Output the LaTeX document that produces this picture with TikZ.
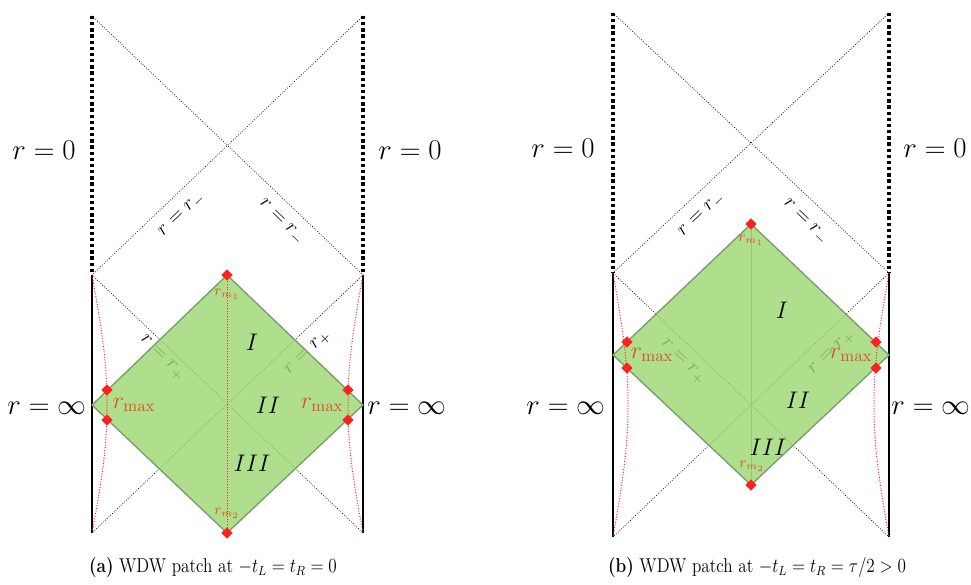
\documentclass[tikz,border=0pt]{standalone}
\usepackage{xcolor}
\definecolor{cPatch}{HTML}{9BD66F}
\definecolor{cEdge}{HTML}{7A9C6C}
\definecolor{cDot}{HTML}{FF2020}
\definecolor{cLabel}{HTML}{E0501C}
\definecolor{cGray}{HTML}{8C8C8C}
\usepackage{tikz}
\usetikzlibrary{positioning,shapes.geometric}
\tikzset{
  line-sing/.style={line width=2pt,dash pattern=on 2pt off 1.7pt},
  line-bdy/.style={line width=0.8pt},
  line-hor/.style={densely dotted,line width=0.45pt},
  line-rmax/.style={draw=cDot,densely dotted,line width=0.6pt},
  line-axis/.style={draw=cGray,line width=0.4pt},
  wdw-patch/.style={fill=cPatch,fill opacity=0.8,draw=cEdge,line width=0.8pt},
  node-dot/.style={diamond,fill=cDot,inner sep=0pt,minimum size=7pt},
  label-bdy/.style={font=\LARGE},
  label-hor/.style={font=\large,inner sep=1pt},
  label-reg/.style={font=\Large},
  label-rmax/.style={font=\Large,text=cLabel,inner sep=1pt},
  label-rm/.style={font=\small,text=cLabel,inner sep=1pt},
  label-cap/.style={font=\large,xscale=0.86},
}

\begin{document}
\begin{tikzpicture}[x=0.6pt,y=-0.6pt]
  \useasboundingbox (0,0) rectangle (971,585);

  % (a) -t_L = t_R = 0
  \coordinate (aTL) at (92,16);  \coordinate (aTR) at (363,16);
  \coordinate (aML) at (92,275); \coordinate (aMR) at (363,275);
  \coordinate (aBL) at (92,533); \coordinate (aBR) at (363,533);
  \draw[line-sing] (aTL) -- (aML);
  \draw[line-sing] (aTR) -- (aMR);
  \draw[line-bdy] (aML) -- (aBL);
  \draw[line-bdy] (aMR) -- (aBR);
  \draw[line-hor] (aTL) -- (aMR);
  \draw[line-hor] (aTR) -- (aML);
  \draw[line-hor] (aML) -- (aBR);
  \draw[line-hor] (aMR) -- (aBL);
  \node[label-bdy] (a-r0L) at (44,150) {$r=0$};
  \node[label-bdy] (a-r0R) at (410,150) {$r=0$};
  \node[label-bdy] (a-rinfL) at (47,408) {$r=\infty$};
  \node[label-bdy] (a-rinfR) at (407,408) {$r=\infty$};
  \node[label-hor,rotate=44] (a-rmL) at (182,215) {$r=r_-$};
  \node[label-hor,rotate=-44] (a-rmR) at (281,222) {$r=r_-$};
  \node[label-hor,rotate=-44] (a-rpL) at (162,358) {$r=r_+$};
  \node[label-hor,rotate=44] (a-rpR) at (308,353) {$r=r_+$};

  \coordinate (aPt) at (227,275); \coordinate (aPr) at (363,405);
  \coordinate (aPb) at (227,533); \coordinate (aPl) at (92,405);
  \draw[wdw-patch] (aPt) -- (aPr) -- (aPb) -- (aPl) -- cycle;

  \draw[line-rmax] (aML) .. controls (104,340) and (107,370) .. (107,405)
                         .. controls (107,440) and (104,470) .. (aBL);
  \draw[line-rmax] (aMR) .. controls (351,340) and (348,370) .. (348,405)
                         .. controls (348,440) and (351,470) .. (aBR);
  \node[node-dot] (a-top) at (aPt) {};
  \node[node-dot] (a-bot) at (aPb) {};
  \draw[line-rmax] (a-top) -- (a-bot);
  \node[node-dot] (a-l1) at (107,390) {};
  \node[node-dot] (a-l2) at (107,420) {};
  \node[node-dot] (a-r1) at (348,390) {};
  \node[node-dot] (a-r2) at (348,420) {};
  \node[label-rmax] (a-rmaxL) at (134,405) {$r_{\max}$};
  \node[label-rmax] (a-rmaxR) at (322,405) {$r_{\max}$};
  \node[label-rm] (a-rm1) at (227,294) {$r_{m_1}$};
  \node[label-rm] (a-rm2) at (227,513) {$r_{m_2}$};
  \node[label-reg] (a-I) at (252,342) {$I$};
  \node[label-reg] (a-II) at (268,405) {$II$};
  \node[label-reg] (a-III) at (252,463) {$III$};
  \node[label-cap] (capA) at (213,568) {\textbf{(a)} WDW patch at $-t_L=t_R=0$};

  % (b) -t_L = t_R = tau/2 > 0
  \coordinate (bTL) at (613,13);  \coordinate (bTR) at (889,13);
  \coordinate (bML) at (613,273); \coordinate (bMR) at (889,273);
  \coordinate (bBL) at (613,537); \coordinate (bBR) at (889,537);
  \draw[line-sing] (bTL) -- (bML);
  \draw[line-sing] (bTR) -- (bMR);
  \draw[line-bdy] (bML) -- (bBL);
  \draw[line-bdy] (bMR) -- (bBR);
  \draw[line-hor] (bTL) -- (bMR);
  \draw[line-hor] (bTR) -- (bML);
  \draw[line-hor] (bML) -- (bBR);
  \draw[line-hor] (bMR) -- (bBL);
  \node[label-bdy] (b-r0L) at (563,148) {$r=0$};
  \node[label-bdy] (b-r0R) at (935,148) {$r=0$};
  \node[label-bdy] (b-rinfL) at (566,408) {$r=\infty$};
  \node[label-bdy] (b-rinfR) at (931,408) {$r=\infty$};
  \node[label-hor,rotate=44] (b-rmL) at (702,215) {$r=r_-$};
  \node[label-hor,rotate=-44] (b-rmR) at (805,222) {$r=r_-$};
  \node[label-hor,rotate=-44] (b-rpL) at (683,362) {$r=r_+$};
  \node[label-hor,rotate=44] (b-rpR) at (832,353) {$r=r_+$};

  \coordinate (bPt) at (751,224); \coordinate (bPr) at (889,355);
  \coordinate (bPb) at (751,485); \coordinate (bPl) at (613,355);
  \draw[line-axis] (bPt) -- (bPb);
  \draw[wdw-patch] (bPt) -- (bPr) -- (bPb) -- (bPl) -- cycle;

  \draw[line-rmax] (bML) .. controls (625,340) and (628,370) .. (628,405)
                         .. controls (628,440) and (625,470) .. (bBL);
  \draw[line-rmax] (bMR) .. controls (877,340) and (874,370) .. (874,405)
                         .. controls (874,440) and (877,470) .. (bBR);
  \node[node-dot] (b-top) at (bPt) {};
  \node[node-dot] (b-bot) at (bPb) {};
  \node[node-dot] (b-l1) at (627,342) {};
  \node[node-dot] (b-l2) at (627,368) {};
  \node[node-dot] (b-r1) at (876,342) {};
  \node[node-dot] (b-r2) at (876,368) {};
  \node[label-rmax] (b-rmaxL) at (652,355) {$r_{\max}$};
  \node[label-rmax] (b-rmaxR) at (851,355) {$r_{\max}$};
  \node[label-rm] (b-rm1) at (751,240) {$r_{m_1}$};
  \node[label-rm] (b-rm2) at (752,466) {$r_{m_2}$};
  \node[label-reg] (b-I) at (782,310) {$I$};
  \node[label-reg] (b-II) at (798,400) {$II$};
  \node[label-reg] (b-III) at (768,447) {$III$};
  \node[label-cap] (capB) at (757,568) {\textbf{(b)} WDW patch at $-t_L=t_R=\tau/2>0$};
\end{tikzpicture}
\end{document}
